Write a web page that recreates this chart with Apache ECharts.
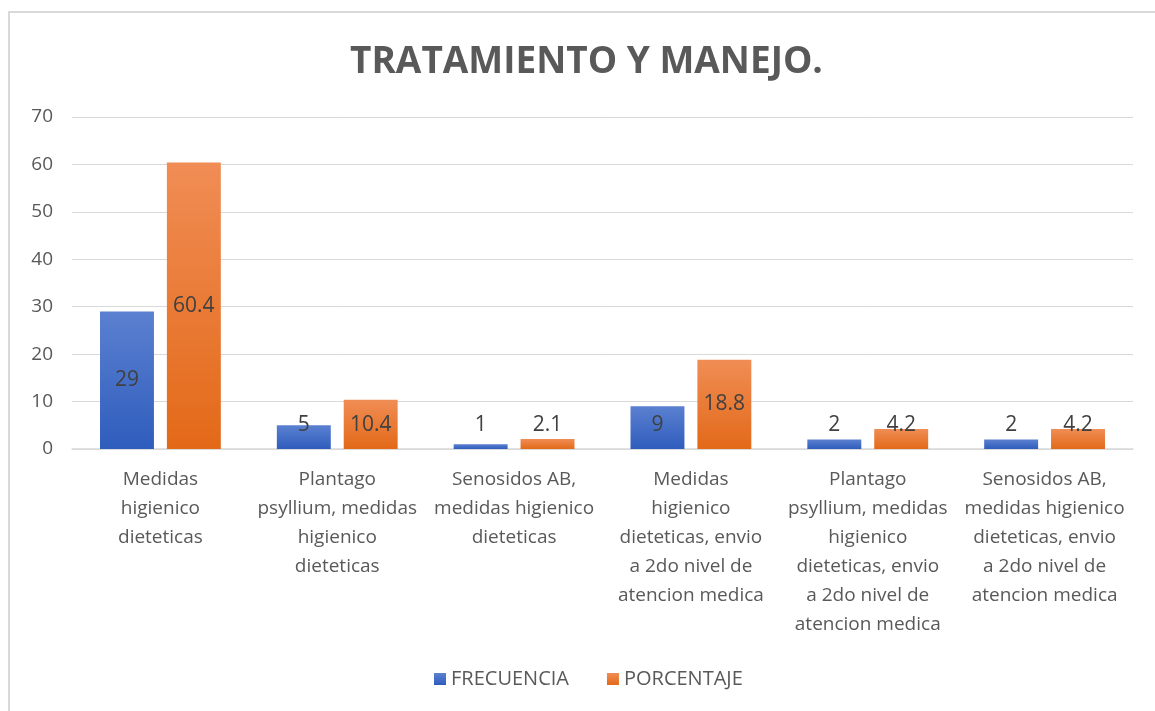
<!DOCTYPE html>
<html>
<head>
<meta charset="utf-8">
<script src="https://cdn.jsdelivr.net/npm/echarts@6/dist/echarts.min.js"></script>
<style>
  html, body { margin: 0; padding: 0; background: #fff; }
  .frame {
    position: absolute; left: 8px; top: 11px;
    width: 1200px; height: 760px;
    border: 2px solid #d9d9d9; box-sizing: border-box;
  }
  #chart { position: absolute; left: 0; top: 0; width: 1155px; height: 711px; }
</style>
</head>
<body>
<div class="frame"></div>
<div id="chart"></div>
<script>
  const categories = [
    'Medidas\nhigienico\ndieteticas',
    'Plantago\npsyllium, medidas\nhigienico\ndieteticas',
    'Senosidos AB,\nmedidas higienico\ndieteticas',
    'Medidas\nhigienico\ndieteticas, envio\na 2do nivel de\natencion medica',
    'Plantago\npsyllium, medidas\nhigienico\ndieteticas, envio\na 2do nivel de\natencion medica',
    'Senosidos AB,\nmedidas higienico\ndieteticas, envio\na 2do nivel de\natencion medica'
  ]
  const frecuencia = [29, 5, 1, 9, 2, 2]
  const porcentaje = [60.4, 10.4, 2.1, 18.8, 4.2, 4.2]
  const yTicks = { min: 0, max: 70, interval: 10 }

  const font = 'Open Sans'
  const myChart = echarts.init(document.getElementById('chart'))

  // short bars: label is lifted so it doesn't sink under the axis (like excel)
  function withLabels(arr) {
    return arr.map(function (v) {
      if (v < 11) {
        return { value: v, label: { position: 'insideBottom', distance: 13 } }
      }
      return v
    })
  }

  const barLabel = {
    show: true,
    position: 'inside',
    color: '#404040',
    fontSize: 21,
    fontFamily: font
  }

  const option = {
    animation: false,
    title: {
      text: 'TRATAMIENTO Y MANEJO.',
      left: 345,
      top: 39,
      textStyle: {
        color: '#595959',
        fontSize: 37,
        fontWeight: 'bold',
        fontFamily: font
      }
    },
    legend: {
      bottom: 17,
      left: 429,
      itemWidth: 12,
      itemHeight: 12,
      itemGap: 38,
      icon: 'rect',
      textStyle: { color: '#595959', fontSize: 20, fontFamily: font },
      data: ['FRECUENCIA', 'PORCENTAJE']
    },
    grid: {
      left: 72,
      right: 22,
      top: 117,
      bottom: 262
    },
    xAxis: {
      type: 'category',
      data: categories,
      axisTick: { show: false },
      axisLine: { lineStyle: { color: '#d9d9d9', width: 1.5 } },
      axisLabel: {
        interval: 0,
        color: '#595959',
        fontSize: 19,
        lineHeight: 29,
        fontFamily: font,
        margin: 16
      }
    },
    yAxis: {
      type: 'value',
      min: yTicks.min,
      max: yTicks.max,
      interval: yTicks.interval,
      axisLine: { show: false },
      axisTick: { show: false },
      axisLabel: { color: '#595959', fontSize: 19, fontFamily: font, margin: 19 },
      splitLine: { lineStyle: { color: '#d9d9d9', width: 1 } }
    },
    series: [{
        name: 'FRECUENCIA',
        type: 'bar',
        barWidth: '30.5%',
        barGap: '24%',
        data: withLabels(frecuencia),
        label: barLabel,
        itemStyle: {
          color: new echarts.graphic.LinearGradient(0, 0, 0, 1, [
            { offset: 0, color: '#5b80d0' },
            { offset: 1, color: '#2f5dbd' }
          ])
        }
      },
      {
        name: 'PORCENTAJE',
        type: 'bar',
        barWidth: '30.5%',
        data: withLabels(porcentaje),
        label: barLabel,
        itemStyle: {
          color: new echarts.graphic.LinearGradient(0, 0, 0, 1, [
            { offset: 0, color: '#f08d55' },
            { offset: 1, color: '#e36918' }
          ])
        }
      }
    ]
  }
  myChart.setOption(option)
  window.addEventListener('resize', function () {
    myChart.resize()
  })
</script>
</body>
</html>
